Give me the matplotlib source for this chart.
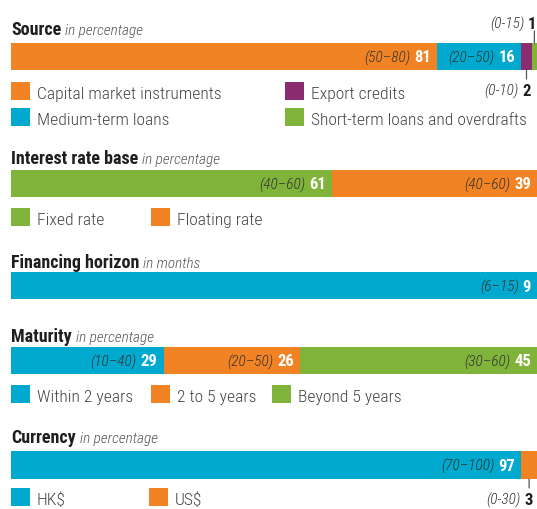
import matplotlib
matplotlib.use('Agg')
import matplotlib.pyplot as plt
from matplotlib import font_manager
from matplotlib.patches import Rectangle
import numpy as np

# ---------------- data ----------------
source_labels = ['Capital market instruments', 'Medium-term loans',
                 'Export credits', 'Short-term loans and overdrafts']
source_values = [81, 16, 2, 1]
source_ranges = ['(50–80)', '(20–50)', '(0-10)', '(0-15)']

rate_labels = ['Fixed rate', 'Floating rate']
rate_values = [61, 39]
rate_ranges = ['(40–60)', '(40–60)']

horizon_values = [9]
horizon_ranges = ['(6–15)']

maturity_labels = ['Within 2 years', '2 to 5 years', 'Beyond 5 years']
maturity_values = [29, 26, 45]
maturity_ranges = ['(10–40)', '(20–50)', '(30–60)']

currency_labels = ['HK$', 'US$']
currency_values = [97, 3]
currency_ranges = ['(70–100)', '(0-30)']

titles = ['Source', 'Interest rate base', 'Financing horizon', 'Maturity', 'Currency']
subtitles = ['in percentage', 'in percentage', 'in months', 'in percentage', 'in percentage']

# ---------------- style ----------------
ORANGE = '#F28325'
BLUE = '#00A9CD'
PURPLE = '#8B2B70'
GREEN = '#80B33A'
DARK = '#1E1E1E'
GREY = '#444444'
RANGE_C = '#333333'

W, H = 537, 509

# pick a condensed font if one is installed
entries = font_manager.fontManager.ttflist
names = {e.name for e in entries}
cond_names = {e.name for e in entries
              if str(e.stretch) in ('condensed', 'semi-condensed', 'extra-condensed')}
FONT, S, STRETCH = 'DejaVu Sans', 0.78, 'normal'
for fam, sc in [('Roboto Condensed', 1.0), ('Liberation Sans Narrow', 1.0),
                ('Open Sans Condensed', 1.0), ('Roboto', 1.0), ('Noto Sans', 1.0),
                ('Open Sans', 0.95), ('DejaVu Sans Condensed', 0.86),
                ('DejaVu Sans', 0.86)]:
    if fam in ('Roboto Condensed', 'Liberation Sans Narrow', 'Open Sans Condensed',
               'DejaVu Sans Condensed'):
        if fam in names:
            FONT, S, STRETCH = fam, sc, 'condensed' if fam in cond_names else 'normal'
            break
    elif fam in cond_names:
        FONT, S, STRETCH = fam, sc, 'condensed'
        break
plt.rcParams['font.family'] = [FONT, 'DejaVu Sans']
plt.rcParams['font.stretch'] = STRETCH

fig = plt.figure(figsize=(W / 100, H / 100), dpi=100)
canvas = fig.add_axes([0, 0, 1, 1])
canvas.set_xlim(0, W)
canvas.set_ylim(H, 0)
canvas.axis('off')

X0, X1 = 11, 537
LEG_FS = 12.6 * S
CAP = LEG_FS * 100 / 72 * 0.72


def title(text, sub, baseline):
    t = canvas.text(X0, baseline, text, fontsize=13 * S, fontweight='bold',
                    color=DARK, ha='left', va='baseline')
    canvas.annotate(sub, xy=(1, baseline), xycoords=(t, 'data'),
                    xytext=(4, 0), textcoords='offset pixels',
                    fontsize=11 * S, fontstyle='italic', fontweight='light',
                    color='#555555', ha='left', va='baseline')


def legend(entries, colors, xs, ys):
    for lab, c, x, y in zip(entries, colors, xs, ys):
        canvas.add_patch(Rectangle((x, y), 19, 18, facecolor=c, edgecolor='none'))
        canvas.text(x + 26, y + 11 + CAP / 2, lab, fontsize=LEG_FS, color=GREY,
                    fontweight='light', ha='left', va='baseline')


def bar(top, bottom, values, colors, ranges, places, total=None):
    ax = fig.add_axes([X0 / W, 1 - bottom / H, (X1 - X0) / W, (bottom - top) / H])
    values = np.asarray(values, dtype=float)
    left = np.concatenate([[0], np.cumsum(values)[:-1]])
    ax.barh(0, values, left=left, height=1, color=colors, linewidth=0)
    ax.set_xlim(0, total if total is not None else values.sum())
    ax.set_ylim(-0.5, 0.5)
    ax.axis('off')
    for v, l, r, p in zip(values, left, ranges, places):
        vs = str(int(v))
        if p == 'in':
            end = l + v
            val = ax.annotate(vs, xy=(end, 0), xycoords='data', xytext=(-6, 0),
                              textcoords='offset pixels', ha='right',
                              va='center_baseline', color='white',
                              fontweight='bold', fontsize=12 * S)
            ax.annotate(r, xy=(0, 0), xycoords=(val, 'data'), xytext=(-4, 0),
                        textcoords='offset pixels', ha='right',
                        va='center_baseline', color=RANGE_C,
                        fontstyle='italic', fontweight='light', fontsize=11 * S)
        else:
            c = l + v / 2
            if p == 'above':
                y0, ly, ty, dx = 0.5, 12, 20, 2
            else:
                y0, ly, ty, dx = -0.5, -9, -20, 4
            ax.annotate('', xy=(c, y0), xycoords='data', xytext=(0, ly),
                        textcoords='offset pixels', annotation_clip=False,
                        arrowprops=dict(arrowstyle='-', color='#555555', lw=0.9,
                                        shrinkA=0, shrinkB=0))
            val = ax.annotate(vs, xy=(c, y0), xycoords='data', xytext=(dx, ty),
                              textcoords='offset pixels', ha='right',
                              va='center_baseline', color=DARK,
                              fontweight='bold', fontsize=12 * S,
                              annotation_clip=False)
            ax.annotate(r, xy=(0, y0), xycoords=(val, 'data'),
                        xytext=(-4, ty), textcoords='offset pixels',
                        ha='right', va='center_baseline',
                        color=RANGE_C, fontstyle='italic', fontweight='light',
                        fontsize=11 * S, annotation_clip=False)
    return ax


# Source
title(titles[0], subtitles[0], 35)
bar(43, 70, source_values, [ORANGE, BLUE, PURPLE, GREEN], source_ranges,
    ['in', 'in', 'below', 'above'])
legend([source_labels[0], source_labels[2], source_labels[1], source_labels[3]],
       [ORANGE, PURPLE, BLUE, GREEN], [11, 285, 11, 285], [82, 82, 108, 108])

# Interest rate base
title(titles[1], subtitles[1], 164)
bar(170, 197, rate_values, [GREEN, ORANGE], rate_ranges, ['in', 'in'])
legend(rate_labels, [GREEN, ORANGE], [11, 151], [208, 208])

# Financing horizon
title(titles[2], subtitles[2], 268)
bar(272, 299, horizon_values, [BLUE], horizon_ranges, ['in'])

# Maturity
title(titles[3], subtitles[3], 342)
bar(347, 374, maturity_values, [BLUE, ORANGE, GREEN], maturity_ranges,
    ['in', 'in', 'in'])
legend(maturity_labels, [BLUE, ORANGE, GREEN], [11, 151, 272], [385, 385, 385])

# Currency
title(titles[4], subtitles[4], 443)
bar(451, 479, currency_values, [BLUE, ORANGE], currency_ranges, ['in', 'below'])
legend(currency_labels, [BLUE, ORANGE], [11, 149], [488, 488])

fig.savefig('out.png', dpi=100)
